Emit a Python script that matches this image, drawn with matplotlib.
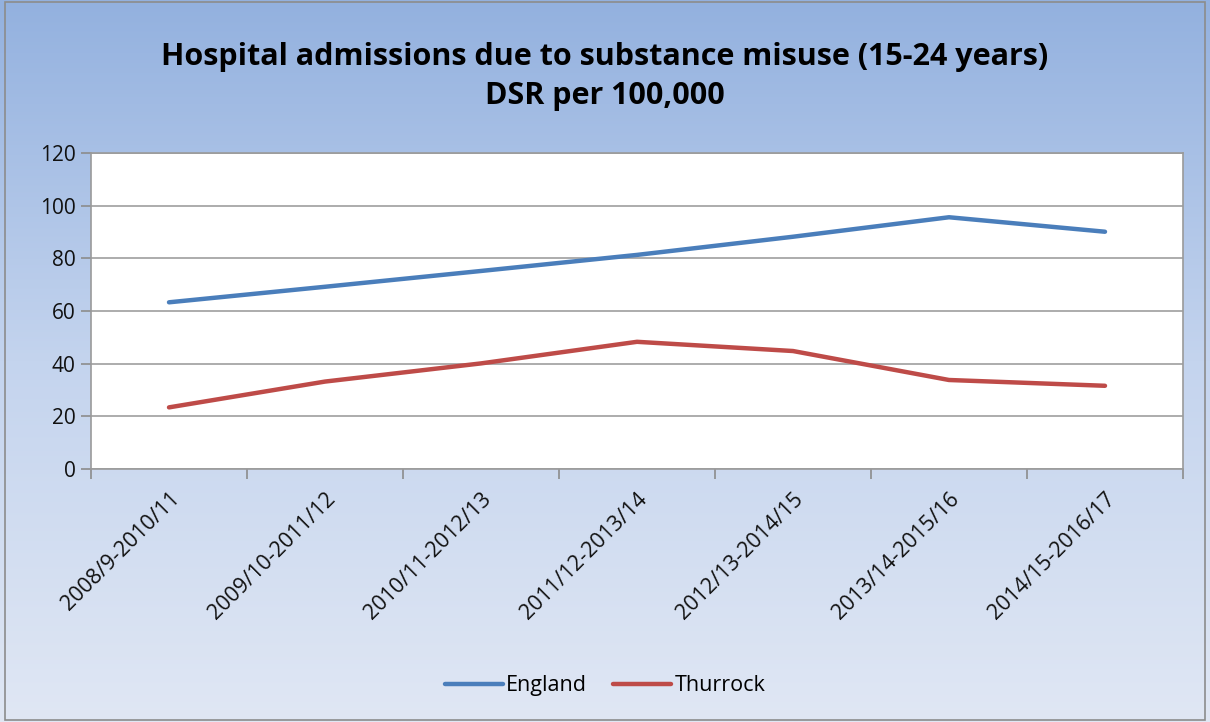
import numpy as np
import matplotlib.pyplot as plt
from matplotlib.colors import LinearSegmentedColormap

periods = ["2008/9-2010/11", "2009/10-2011/12", "2010/11-2012/13", "2011/12-2013/14",
           "2012/13-2014/15", "2013/14-2015/16", "2014/15-2016/17"]
england = [63.3, 69.2, 75.2, 81.3, 88.2, 95.6, 90.1]
thurrock = [23.4, 33.2, 40.1, 48.3, 44.8, 33.8, 31.6]
yticks = [0, 20, 40, 60, 80, 100, 120]

plt.rcParams['font.family'] = ['Open Sans', 'DejaVu Sans']

fig = plt.figure(figsize=(12.1, 7.22), dpi=100)

# gradient background
bg = fig.add_axes([0, 0, 1, 1], zorder=-2)
cmap = LinearSegmentedColormap.from_list("bg", ["#93B1DF", "#C4D4EE", "#E0E7F4"])
grad = np.linspace(0, 1, 256).reshape(-1, 1)
bg.imshow(grad, aspect='auto', cmap=cmap, extent=[0, 1, 0, 1], origin='upper')
bg.set_xlim(0, 1)
bg.set_ylim(0, 1)
bg.axis('off')
bg.add_patch(plt.Rectangle((0.004, 0.003), 0.992, 0.994, fill=False, edgecolor="#8C8C8C", lw=1.2))

ax = fig.add_axes([91 / 1210, (722 - 469) / 722, 1092 / 1210, 316 / 722])
ax.set_facecolor("white")
x = np.arange(len(periods))
ax.plot(x, england, color="#4A7EBB", lw=3.2, label="England", solid_capstyle='round')
ax.plot(x, thurrock, color="#BE4B48", lw=3.2, label="Thurrock", solid_capstyle='round')

ax.set_xlim(-0.5, len(periods) - 0.5)
ax.set_ylim(0, 120)
ax.set_yticks(yticks)
ax.set_yticklabels([str(v) for v in yticks], fontsize=15, color="#111111")
ax.yaxis.grid(True, color="#A6A6A6", lw=1.3)
ax.set_axisbelow(True)
ax.tick_params(axis='y', length=7, color="#8C8C8C", width=1.2, pad=4)

ax.set_xticks(x)
ax.set_xticklabels(periods, rotation=45, ha='right', rotation_mode='anchor', fontsize=15.5, color="#111111")
ax.tick_params(axis='x', which='major', length=0, pad=14)
ax.set_xticks(np.arange(-0.5, len(periods), 1), minor=True)
ax.tick_params(axis='x', which='minor', length=7, color="#8C8C8C", width=1.2)

for s in ax.spines.values():
    s.set_color("#9A9A9A")
    s.set_linewidth(1.2)

fig.text(0.5, 0.894, "Hospital admissions due to substance misuse (15-24 years)\nDSR per 100,000",
         ha='center', va='center', fontsize=22, fontweight='bold', linespacing=1.4, color="black")

fig.legend(loc='center', bbox_to_anchor=(0.5, 0.05), ncol=2, frameon=False, fontsize=15.5,
           handlelength=2.7, columnspacing=1.2, handletextpad=0.15)

fig.savefig("out.png", dpi=100)
